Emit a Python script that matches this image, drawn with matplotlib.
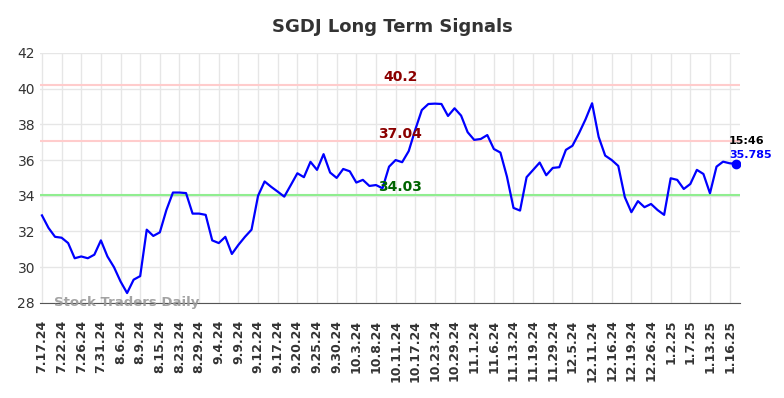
import matplotlib
matplotlib.use('Agg')
import matplotlib.pyplot as plt
import numpy as np

# closing prices
prices = [32.9, 32.2, 31.7, 31.65, 31.35, 30.5, 30.6, 30.5, 30.7, 31.5,
          30.6, 30.0, 29.2, 28.55, 29.3, 29.5, 32.1, 31.75, 31.95, 33.2,
          34.18, 34.18, 34.15, 33.0, 33.0, 32.93, 31.5, 31.35, 31.7, 30.74,
          31.25, 31.7, 32.1, 34.0, 34.8, 34.5, 34.23, 33.95, 34.6, 35.26,
          35.04, 35.9, 35.45, 36.33, 35.3, 35.0, 35.5, 35.37, 34.74, 34.89,
          34.55, 34.6, 34.42, 35.63, 36.0, 35.88, 36.5, 37.7, 38.8, 39.14,
          39.16, 39.14, 38.47, 38.9, 38.49, 37.56, 37.13, 37.18, 37.4, 36.62,
          36.42, 35.07, 33.32, 33.17, 35.04, 35.45, 35.86, 35.15, 35.56, 35.6,
          36.57, 36.8, 37.5, 38.28, 39.18, 37.3, 36.25, 36.0, 35.67, 33.92,
          33.08, 33.7, 33.36, 33.54, 33.2, 32.93, 34.98, 34.89, 34.38, 34.66,
          35.45, 35.22, 34.14, 35.63, 35.91, 35.82, 35.785]

tick_labels = ['7.17.24', '7.22.24', '7.26.24', '7.31.24', '8.6.24', '8.9.24',
               '8.15.24', '8.23.24', '8.29.24', '9.4.24', '9.9.24', '9.12.24',
               '9.17.24', '9.20.24', '9.25.24', '9.30.24', '10.3.24', '10.8.24',
               '10.11.24', '10.17.24', '10.23.24', '10.29.24', '11.1.24', '11.6.24',
               '11.13.24', '11.19.24', '11.29.24', '12.5.24', '12.11.24', '12.16.24',
               '12.19.24', '12.26.24', '1.2.25', '1.7.25', '1.13.25', '1.16.25']

upper_levels = [40.2, 37.04]
lower_level = 34.03
last_time = '15:46'

x = np.arange(len(prices))
ticks = np.arange(0, len(tick_labels) * 3, 3)

fig = plt.figure(figsize=(7.84, 3.98), dpi=100)
ax = fig.add_axes([0.051, 0.239, 0.893, 0.628])

ax.grid(color='#e6e6e6', linewidth=1)
ax.set_axisbelow(True)

for lv in upper_levels:
    ax.axhline(lv, color='#ffcccc', linewidth=1.5, zorder=2)
ax.axhline(lower_level, color='#90ee90', linewidth=1.5, zorder=2)

ax.plot(x, prices, color='#0000ff', linewidth=1.6, zorder=3)
ax.plot(x[-1], prices[-1], 'o', color='#0000ff', markersize=6, zorder=4)

mid = 54.7
ax.text(mid, upper_levels[0] + 0.05, str(upper_levels[0]), color='#8b0000',
        fontsize=10, fontweight='bold', ha='center', va='bottom')
ax.text(mid, upper_levels[1] + 0.05, f'{upper_levels[1]:.2f}', color='#8b0000',
        fontsize=10, fontweight='bold', ha='center', va='bottom')
ax.text(mid, lower_level + 0.05, f'{lower_level:.2f}', color='#006400',
        fontsize=10, fontweight='bold', ha='center', va='bottom')

ax.text(x[-1] - 1.1, prices[-1] + 0.98, last_time, color='black',
        fontsize=8, fontweight='bold', ha='left', va='bottom')
ax.text(x[-1] - 1.1, prices[-1] + 0.2, f'{prices[-1]}', color='#0000ff',
        fontsize=8, fontweight='bold', ha='left', va='bottom')

ax.text(1.8, 28.0, 'Stock Traders Daily', color='#999999', fontsize=9.5,
        fontweight='bold', ha='left', va='center', alpha=0.9)

ax.set_xlim(-0.3, 106.6)
ax.set_ylim(28, 42)
ax.set_yticks(np.arange(28, 43, 2))
ax.set_xticks(ticks)
ax.set_xticklabels(tick_labels, rotation=90, fontsize=9, fontweight='bold')
ax.tick_params(axis='y', labelsize=10, length=0, colors='#333333')
ax.tick_params(axis='x', length=0, pad=12, colors='#333333')

for s in ['top', 'right', 'left']:
    ax.spines[s].set_visible(False)
ax.spines['bottom'].set_color('#555555')

fig.suptitle('SGDJ Long Term Signals', fontsize=13, fontweight='bold',
             color='#333333', y=0.955)

fig.savefig('out.png', dpi=100)
